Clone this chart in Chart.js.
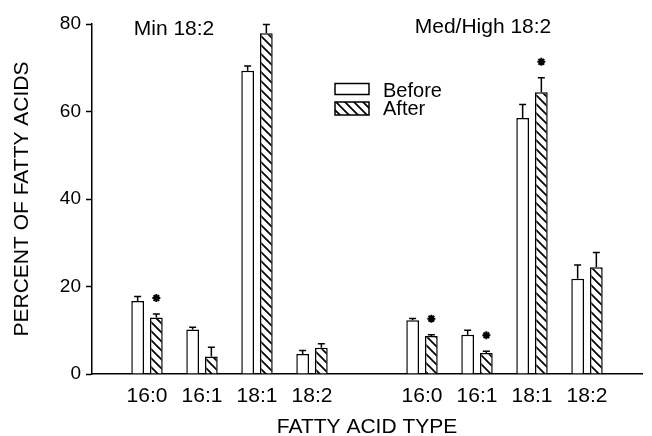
<!DOCTYPE html>
<html>
<head>
<meta charset="utf-8">
<script src="https://cdn.jsdelivr.net/npm/chart.js@4.4.1/dist/chart.umd.min.js"></script>
<style>
  html, body { margin: 0; padding: 0; background: #fff; }
</style>
</head>
<body>
<canvas id="fattyChart" width="652" height="436"></canvas>
<script>
// slots: blank, Min 18:2 group, blank, Med/High 18:2 group, blank
const categories = ['', '16:0', '16:1', '18:1', '18:2', '', '16:0', '16:1', '18:1', '18:2', ''];
const beforeValues = [null, 16.7, 10.2, 69.3, 4.6, null, 12.3, 9.0, 58.5, 21.8, null];
const beforeErrors = [null, 1.0, 0.5, 1.1, 0.8, null, 0.4, 1.0, 3.1, 3.1, null];
const afterValues = [null, 12.9, 4.0, 77.9, 6.0, null, 8.7, 4.8, 64.4, 24.4, null];
const afterErrors = [null, 0.8, 2.1, 2.0, 0.9, null, 0.3, 0.4, 3.3, 3.4, null];
const afterSignificant = [false, true, false, false, false, false, true, true, true, false, false];
const groupTitles = ['Min 18:2', 'Med/High 18:2'];
const yTicks = [0, 20, 40, 60, 80];

const FONT = '"Liberation Sans", Arial, sans-serif';
const canvas = document.getElementById('fattyChart');
const ctx = canvas.getContext('2d');

function makeHatch() {
    const tile = document.createElement('canvas');
    tile.width = 9; tile.height = 9;
    const g = tile.getContext('2d');
    g.fillStyle = '#fff';
    g.fillRect(0, 0, 9, 9);
    g.strokeStyle = '#000';
    g.lineWidth = 1.7;
    g.beginPath();
    g.moveTo(-2, -2); g.lineTo(11, 11);
    g.moveTo(-2, 7); g.lineTo(2, 11);
    g.moveTo(7, -2); g.lineTo(11, 2);
    g.stroke();
    return ctx.createPattern(tile, 'repeat');
}
const hatch = makeHatch();

function drawStar(c, x, y) {
    c.save();
    c.strokeStyle = '#000';
    c.lineWidth = 2;
    c.beginPath();
    for (let k = 0; k < 4; k++) {
        const a = k * Math.PI / 4;
        c.moveTo(x - 4 * Math.cos(a), y - 4 * Math.sin(a));
        c.lineTo(x + 4 * Math.cos(a), y + 4 * Math.sin(a));
    }
    c.stroke();
    c.beginPath();
    c.arc(x, y, 2.2, 0, Math.PI * 2);
    c.fillStyle = '#000';
    c.fill();
    c.restore();
}

const extras = {
    id: 'extras',
    afterDatasetsDraw(chart) {
        const c = chart.ctx;
        const yScale = chart.scales.y;
        const errs = [beforeErrors, afterErrors];
        c.save();
        c.strokeStyle = '#000';
        c.lineWidth = 1.5;
        chart.data.datasets.forEach((ds, i) => {
            chart.getDatasetMeta(i).data.forEach((bar, j) => {
                const v = ds.data[j];
                if (v == null) return;
                const yTop = yScale.getPixelForValue(v + errs[i][j]);
                c.beginPath();
                c.moveTo(bar.x, bar.y);
                c.lineTo(bar.x, yTop);
                c.moveTo(bar.x - 3.5, yTop);
                c.lineTo(bar.x + 3.5, yTop);
                c.stroke();
                if (i === 1 && afterSignificant[j]) drawStar(c, bar.x, yTop - 16);
            });
        });

        // group titles
        c.fillStyle = '#000';
        c.font = '21px ' + FONT;
        c.textAlign = 'center';
        c.textBaseline = 'alphabetic';
        c.fillText(groupTitles[0], 174, 35);
        c.fillText(groupTitles[1], 483, 33);

        // legend
        c.fillStyle = '#fff';
        c.fillRect(335, 83.5, 34, 11);
        c.strokeRect(335, 83.5, 34, 11);
        c.fillStyle = hatch;
        c.fillRect(335, 102, 34, 13);
        c.strokeRect(335, 102, 34, 13);
        c.fillStyle = '#000';
        c.font = '20px ' + FONT;
        c.textAlign = 'left';
        c.fillText(chart.data.datasets[0].label, 383, 96.5);
        c.fillText(chart.data.datasets[1].label, 383, 115);
        c.restore();
    }
};

new Chart(ctx, {
    type: 'bar',
    data: {
        labels: categories,
        datasets: [{
            label: 'Before',
            data: beforeValues,
            backgroundColor: '#fff',
            borderColor: '#000',
            borderWidth: 1.5,
            categoryPercentage: 0.68,
            barPercentage: 0.68
        }, {
            label: 'After',
            data: afterValues,
            backgroundColor: hatch,
            borderColor: '#000',
            borderWidth: 1.5,
            categoryPercentage: 0.68,
            barPercentage: 0.68
        }]
    },
    options: {
        responsive: false,
        animation: false,
        layout: { padding: { top: 24, right: 0, bottom: 0, left: 0 } },
        plugins: {
            legend: { display: false },
            tooltip: { enabled: false }
        },
        scales: {
            x: {
                offset: false,
                afterFit: (s) => { s.height = 62; },
                grid: { drawOnChartArea: false, drawTicks: false },
                border: { color: '#000', width: 1.5 },
                ticks: { color: '#000', font: { family: FONT, size: 21 }, padding: 10, autoSkip: false, maxRotation: 0 },
                title: { display: true, text: 'FATTY ACID TYPE', color: '#000', font: { family: FONT, size: 21, lineHeight: 1 }, padding: { top: 0, bottom: -2 } }
            },
            y: {
                min: 0,
                max: 80,
                afterFit: (s) => { s.width = 92; },
                afterBuildTicks: (s) => { s.ticks = yTicks.map(v => ({ value: v })); },
                grid: { drawOnChartArea: false, drawTicks: true, tickLength: 6, tickColor: '#000', tickWidth: 1.5 },
                border: { color: '#000', width: 1.5 },
                ticks: { color: '#000', font: { family: FONT, size: 19 }, padding: 5 },
                title: { display: true, text: 'PERCENT OF FATTY ACIDS', color: '#000', font: { family: FONT, size: 21 }, padding: { top: 10, bottom: 0 } }
            }
        }
    },
    plugins: [extras]
});
</script>
</body>
</html>
